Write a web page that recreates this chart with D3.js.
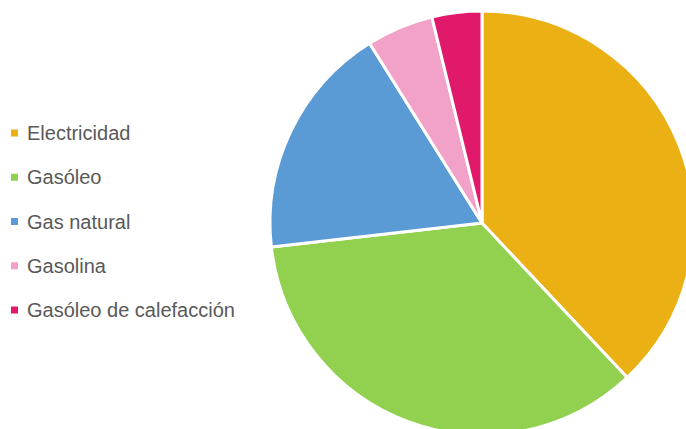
<!DOCTYPE html>
<html><head><meta charset="utf-8">
<script src="https://cdn.jsdelivr.net/npm/d3@7"></script>
<style>body{margin:0;background:#fff}svg{display:block}</style>
</head><body>
<script>
const categories = ["Electricidad","Gasóleo","Gas natural","Gasolina","Gasóleo de calefacción"];
const values = [38, 35.2, 17.9, 5.1, 3.8];
const colors = ["#EBB014","#92D050","#5B9BD5","#F2A2C8","#E0196B"];

const W=686,H=429;
const svg=d3.select("body").append("svg").attr("width",W).attr("height",H);
const cx=482, cy=223, r=212;
const pie=d3.pie().sort(null).value(d=>d)(values);
const arc=d3.arc().innerRadius(0).outerRadius(r);
svg.append("g").attr("transform",`translate(${cx},${cy})`)
  .selectAll("path").data(pie).join("path")
  .attr("d",arc).attr("fill",(d,i)=>colors[i])
  .attr("stroke","#fff").attr("stroke-width",3).attr("stroke-linejoin","round");

const ly=d3.scalePoint().domain(categories).range([133,310]);
const lg=svg.append("g").selectAll("g").data(categories).join("g")
  .attr("transform",d=>`translate(0,${ly(d)})`);
lg.append("rect").attr("x",11).attr("y",-3.5).attr("width",7).attr("height",7)
  .attr("fill",(d,i)=>colors[i]);
lg.append("text").attr("x",27).attr("y",0).attr("dy","0.35em")
  .attr("font-family","Liberation Sans, Arial, sans-serif").attr("font-size",20)
  .attr("fill","#595959").text(d=>d);
</script>
</body></html>
